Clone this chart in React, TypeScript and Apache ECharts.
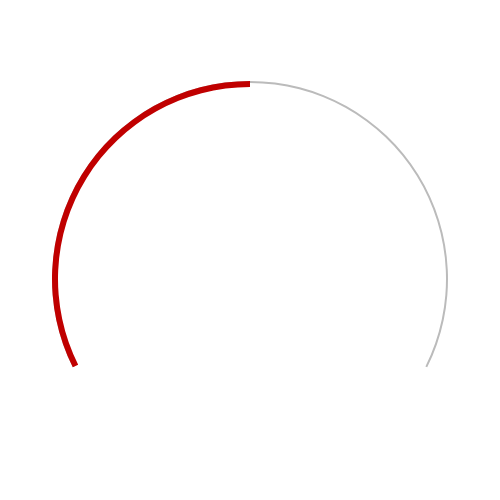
import React, { useEffect, useRef } from "react";
import * as echarts from "echarts";

const gaugeMin = 0;
const gaugeMax = 100;
const gaugeValues = [50];

export default function App() {
  const ref = useRef<HTMLDivElement>(null);
  useEffect(() => {
    if (!ref.current) return;
    const chart = echarts.init(ref.current, undefined, { renderer: "svg" });
    chart.setOption({
      animation: false,
      backgroundColor: "#ffffff",
      series: [
        {
          type: "gauge",
          center: [250, 279],
          radius: 198,
          startAngle: 206.5,
          endAngle: -26.5,
          min: gaugeMin,
          max: gaugeMax,
          progress: {
            show: true,
            width: 6,
            roundCap: false,
            itemStyle: { color: "#c00000" },
          },
          axisLine: {
            lineStyle: { width: 2, color: [[1, "#bbbbbb"]] },
          },
          pointer: { show: false },
          anchor: { show: false },
          axisTick: { show: false },
          splitLine: { show: false },
          axisLabel: { show: false },
          title: { show: false },
          detail: { show: false },
          data: gaugeValues.map((v) => ({ value: v })),
        },
      ],
    });
    return () => chart.dispose();
  }, []);
  return (
    <div
      ref={ref}
      style={{ position: "absolute", left: 0, top: 0, width: 500, height: 500 }}
    />
  );
}
